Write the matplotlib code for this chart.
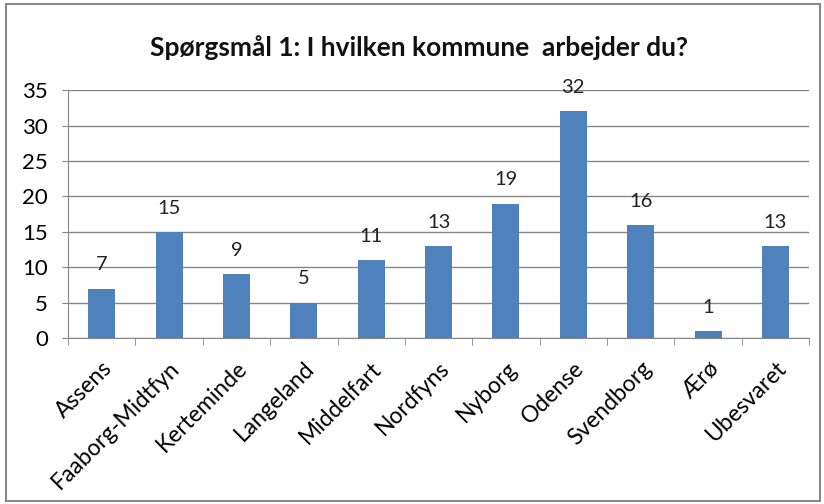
import numpy as np
import matplotlib
matplotlib.use("Agg")
import matplotlib.pyplot as plt
from matplotlib.patches import Rectangle

kommuner = ['Assens', 'Faaborg-Midtfyn', 'Kerteminde', 'Langeland', 'Middelfart',
            'Nordfyns', 'Nyborg', 'Odense', 'Svendborg', 'Ærø', 'Ubesvaret']
antal = [7, 15, 9, 5, 11, 13, 19, 32, 16, 1, 13]

plt.rcParams['font.family'] = ['Lato', 'DejaVu Sans']

fig = plt.figure(figsize=(8.24, 5.04), dpi=100)
ax = fig.add_axes([0.0825, 0.329, 0.8995, 0.492])

x = np.arange(len(kommuner))
ax.bar(x, antal, width=0.4, color='#4F81BD', zorder=3)
for xi, v in zip(x, antal):
    ax.annotate(str(v), (xi, v), xytext=(0, 11), textcoords='offset points',
                ha='center', va='bottom', fontsize=14.5, color='#222222')

ax.set_xlim(-0.5, len(kommuner) - 0.5)
ax.set_ylim(0, 35)
ax.set_yticks(range(0, 36, 5))
ax.tick_params(axis='y', labelsize=16, length=4.5, color='#868686', pad=10)
ax.set_xticks(x)
ax.set_xticklabels(kommuner, rotation=45, ha='right', rotation_mode='anchor', fontsize=16.5)
ax.tick_params(axis='x', which='major', length=0, pad=14)
ax.set_xticks(np.arange(-0.5, len(kommuner)), minor=True)
ax.tick_params(axis='x', which='minor', length=5, color='#868686')
ax.yaxis.grid(True, color='#868686', linewidth=1)
ax.set_axisbelow(True)

for s in ['top', 'right']:
    ax.spines[s].set_visible(False)
for s in ['left', 'bottom']:
    ax.spines[s].set_color('#868686')

fig.text(0.508, 0.905, 'Spørgsmål 1: I hvilken kommune  arbejder du?', ha='center', va='center',
         fontsize=19, fontweight='bold', color='#111111')

fig.patches.append(Rectangle((0.007, 0.005), 0.988, 0.987, transform=fig.transFigure,
                             fill=False, edgecolor='#888888', linewidth=1.5))

plt.savefig('out.png')
